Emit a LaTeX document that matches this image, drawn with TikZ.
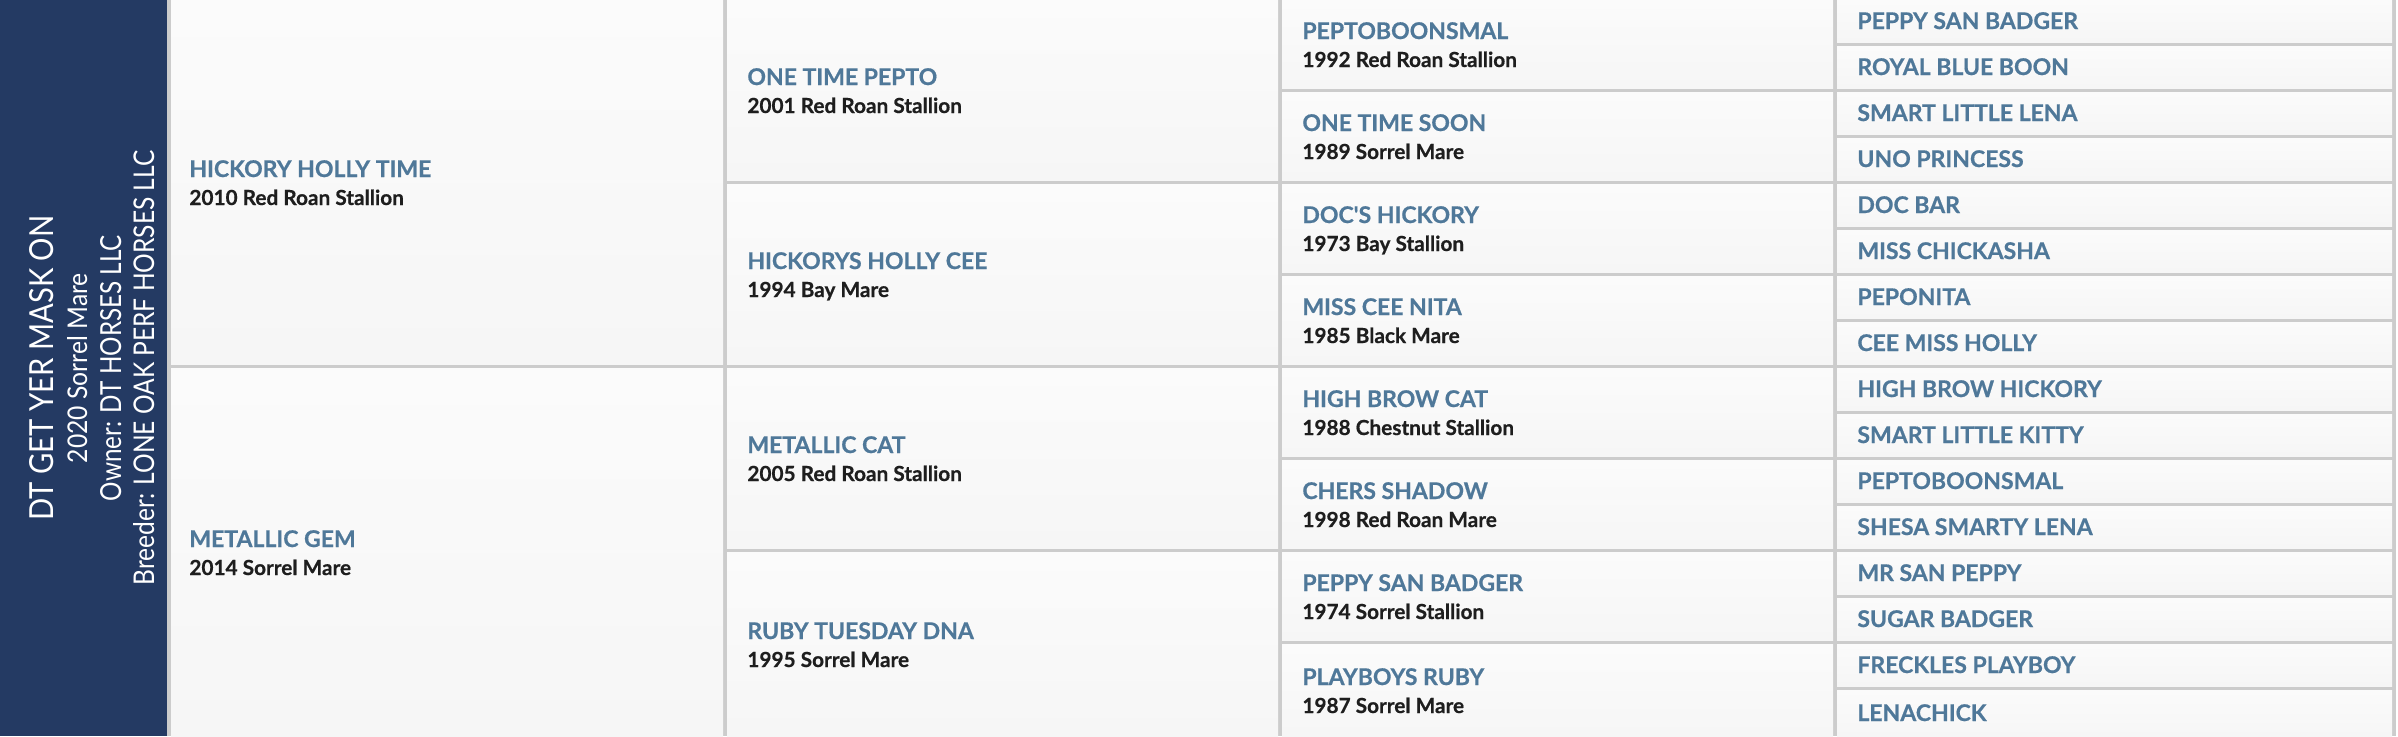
\documentclass[tikz,border=0pt]{standalone}
\usepackage{fontspec}
\setmainfont{Lato}
\newfontfamily\heavyfont[FakeBold=0.6]{Lato}
\usepackage{graphicx}
\definecolor{navy}{HTML}{243A63}
\definecolor{gridgray}{HTML}{CCCCCC}
\definecolor{nameblue}{HTML}{4F7899}
\definecolor{subblack}{HTML}{1E1E1E}
\definecolor{cellA}{HTML}{FBFBFB}
\definecolor{cellB}{HTML}{F6F6F6}
\tikzset{
  cellfill/.style={top color=cellA, bottom color=cellB},
  hname/.style={anchor=base west, inner sep=0pt, text=nameblue, font=\heavyfont\bfseries\fontsize{11.5}{13}\selectfont},
  hsub/.style={anchor=base west, inner sep=0pt, text=subblack, font=\heavyfont\bfseries\fontsize{10.4}{12}\selectfont},
  sidetext/.style={anchor=base, rotate=90, inner sep=0pt, text=white},
}
\begin{document}
\begin{tikzpicture}[x=0.5pt,y=-0.5pt]
\useasboundingbox (0,0) rectangle (2398,736);
\fill[white] (0,0) rectangle (2398,736);
\fill[gridgray] (167,0) rectangle (2396,736);
\fill[navy] (0,0) rectangle (167,736);

% side panel text
\node[sidetext] (title) at (53,368) {\resizebox{152.5pt}{12pt}{DT GET YER MASK ON}};
\node[sidetext] (born) at (87,368) {\resizebox{95pt}{10pt}{2020 Sorrel Mare}};
\node[sidetext] (owner) at (121,368) {\resizebox{133pt}{10.5pt}{Owner: DT HORSES LLC}};
\node[sidetext] (breeder) at (154,368) {\resizebox{217.5pt}{10.5pt}{Breeder: LONE OAK PERF HORSES LLC}};

% column 1
\shade[cellfill] (171,0) rectangle (723,364);
\shade[cellfill] (171,368) rectangle (723,736);
\node[hname] (c1n0) at (189,177) {HICKORY HOLLY TIME};
\node[hsub] (c1s0) at (189,205) {2010 Red Roan Stallion};
\node[hname] (c1n1) at (189,547) {METALLIC GEM};
\node[hsub] (c1s1) at (189,575) {2014 Sorrel Mare};

% column 2
\foreach \nm/\sb [count=\i from 0] in {ONE TIME PEPTO/2001 Red Roan Stallion, HICKORYS HOLLY CEE/1994 Bay Mare, METALLIC CAT/2005 Red Roan Stallion, RUBY TUESDAY DNA/1995 Sorrel Mare}{
  \pgfmathsetmacro\ytop{184*\i}
  \pgfmathsetmacro\ybot{\i==3 ? 736 : 184*\i+180}
  \pgfmathsetmacro\yc{(\ytop+\ybot)/2}
  \shade[cellfill] (727,\ytop) rectangle (1278,\ybot);
  \node[hname] (c2n\i) at (747,\yc-5) {\nm};
  \node[hsub] (c2s\i) at (747,\yc+23) {\sb};
}

% column 3
\foreach \nm/\sb [count=\i from 0] in {PEPTOBOONSMAL/1992 Red Roan Stallion, ONE TIME SOON/1989 Sorrel Mare, DOC'S HICKORY/1973 Bay Stallion, MISS CEE NITA/1985 Black Mare, HIGH BROW CAT/1988 Chestnut Stallion, CHERS SHADOW/1998 Red Roan Mare, PEPPY SAN BADGER/1974 Sorrel Stallion, PLAYBOYS RUBY/1987 Sorrel Mare}{
  \pgfmathsetmacro\ytop{92*\i}
  \pgfmathsetmacro\ybot{\i==7 ? 736 : 92*\i+88}
  \pgfmathsetmacro\yc{(\ytop+\ybot)/2}
  \shade[cellfill] (1282,\ytop) rectangle (1833,\ybot);
  \node[hname] (c3n\i) at (1302,\yc-5) {\nm};
  \node[hsub] (c3s\i) at (1302,\yc+23) {\sb};
}

% column 4
\foreach \nm [count=\i from 0] in {PEPPY SAN BADGER, ROYAL BLUE BOON, SMART LITTLE LENA, UNO PRINCESS, DOC BAR, MISS CHICKASHA, PEPONITA, CEE MISS HOLLY, HIGH BROW HICKORY, SMART LITTLE KITTY, PEPTOBOONSMAL, SHESA SMARTY LENA, MR SAN PEPPY, SUGAR BADGER, FRECKLES PLAYBOY, LENACHICK}{
  \pgfmathsetmacro\ytop{46*\i}
  \pgfmathsetmacro\ybot{\i==15 ? 736 : 46*\i+42}
  \pgfmathsetmacro\yc{(\ytop+\ybot)/2}
  \shade[cellfill] (1837,\ytop) rectangle (2392,\ybot);
  \node[hname] (c4n\i) at (1857,\yc+8) {\nm};
}
\end{tikzpicture}
\end{document}
